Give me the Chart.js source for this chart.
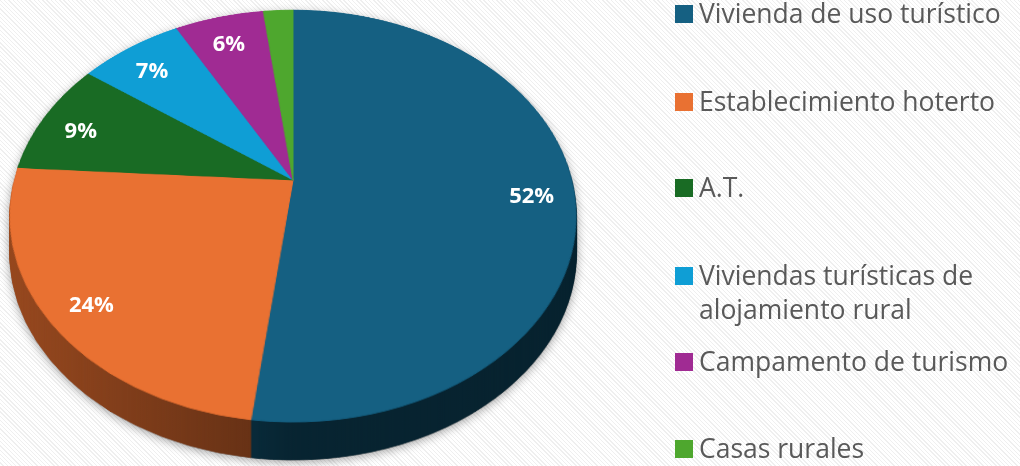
<!DOCTYPE html>
<html>
<head>
<meta charset="utf-8">
<script src="https://cdn.jsdelivr.net/npm/chart.js@4.4.1/dist/chart.umd.min.js"></script>
<style>
html, body {
    margin: 0; padding: 0; width: 1020px; height: 466px; overflow: hidden;
    background: repeating-linear-gradient(45deg, #ffffff 0px, #ffffff 2px, #efefef 2px, #efefef 3px);
}
#wrap { position: absolute; left: 0; top: 0; width: 1020px; height: 600px; }
#legend { position: absolute; left: 675px; top: 0; font-family: "Open Sans", sans-serif; font-size: 26.5px; color: #595959; }
.item { position: absolute; left: 0; line-height: 34px; }
.box { position: absolute; left: 0; top: 9px; width: 18px; height: 18px; }
.txt { position: absolute; left: 24px; top: 0; width: 335px; }
</style>
</head>
<body>
<div id="wrap"><canvas id="pie" width="1020" height="600"></canvas></div>
<div id="legend"></div>
<script>
const categories = [
    "Vivienda de uso turístico",
    "Establecimiento hoterto",
    "A.T.",
    "Viviendas turísticas de alojamiento rural",
    "Campamento de turismo",
    "Casas rurales"
];
const shares = [52, 24, 9, 7, 6, 2];
const colors = ["#156082", "#E97132", "#196B24", "#0F9ED5", "#A02B93", "#4EA72E"];

// where the legend rows sit (first line centre, px)
const legendRows = [14, 102, 188, 275.5, 361.5, 449];

// tilted view of the flat pie: centre on screen, scale, cos of tilt, perspective, wall depth
const view = { cx: 293, cy: 180, F: 0.9848, c: 0.7165, k: 0.000617, depth: 38 };

function makeCanvas(w, h){
    const c = document.createElement("canvas");
    c.width = w; c.height = h;
    return c;
}

// draws the flat pie again as a tilted 3D disc, row by row
const tiltPlugin = {
    id: "tilt",
    afterDraw(chart) {
        const arcs = chart.getDatasetMeta(0).data;
        const fx = arcs[0].x, fy = arcs[0].y, R = arcs[0].outerRadius;
        const W = chart.width, H = chart.height;

        const flat = makeCanvas(W, H);
        flat.getContext("2d").drawImage(chart.canvas, 0, 0, W, H);

        const top = makeCanvas(W, H);
        const tctx = top.getContext("2d");
        for (let y = 0; y < H; y++) {
            const yp = y + 0.5 - view.cy;
            const w = yp / (view.F * view.c + view.k * yp);
            if (Math.abs(w) > R + 1) continue;
            const s = view.F / (1 - view.k * w);
            tctx.drawImage(flat, fx - R - 1, fy + w - 0.5, 2 * R + 2, 1,
                           view.cx - s * (R + 1), y, 2 * s * (R + 1), 1);
        }

        // side wall: stacked copies of the top, then shaded darker
        const side = makeCanvas(W, H);
        const sctx = side.getContext("2d");
        for (let d = view.depth; d >= 1; d--) sctx.drawImage(top, 0, d);
        const mask = makeCanvas(W, H);
        mask.getContext("2d").drawImage(side, 0, 0);
        sctx.globalCompositeOperation = "multiply";
        const g = sctx.createLinearGradient(view.cx - R, 0, view.cx + R, 0);
        g.addColorStop(0, "rgb(165,165,165)");
        g.addColorStop(0.42, "rgb(114,114,114)");
        g.addColorStop(0.5, "rgb(97,97,97)");
        g.addColorStop(1, "rgb(92,92,92)");
        sctx.fillStyle = g;
        sctx.fillRect(0, 0, W, H);
        sctx.globalCompositeOperation = "destination-in";
        sctx.drawImage(mask, 0, 0);

        const ctx = chart.ctx;
        ctx.save();
        ctx.setTransform(1, 0, 0, 1, 0, 0);
        ctx.clearRect(0, 0, W, H);
        ctx.shadowColor = "rgba(0,0,0,0.35)";
        ctx.shadowBlur = 10;
        ctx.shadowOffsetY = 2;
        ctx.drawImage(side, 0, 0);
        ctx.shadowColor = "transparent";
        ctx.drawImage(top, 0, 0);

        // percentage labels, placed on the tilted disc
        ctx.font = "bold 22px 'Open Sans'";
        ctx.fillStyle = "#ffffff";
        ctx.textAlign = "center";
        ctx.textBaseline = "middle";
        const rho = 0.85;
        arcs.forEach((arc, i) => {
            if (shares[i] < 5) return;
            const mid = (arc.startAngle + arc.endAngle) / 2;
            const u = rho * R * Math.cos(mid);
            const w = rho * R * Math.sin(mid);
            const s = view.F / (1 - view.k * w);
            ctx.fillText(shares[i] + "%", view.cx + s * u, view.cy + s * view.c * w + 6);
        });
        ctx.restore();
    }
};

const chart = new Chart(document.getElementById("pie"), {
    type: "pie",
    data: {
        labels: categories,
        datasets: [{
            data: shares,
            backgroundColor: colors,
            borderColor: colors,
            borderWidth: 1,
            radius: 283
        }]
    },
    options: {
        responsive: false,
        maintainAspectRatio: false,
        animation: false,
        devicePixelRatio: 1,
        layout: { padding: 0 },
        plugins: { legend: { display: false }, tooltip: { enabled: false } }
    },
    plugins: [tiltPlugin]
});

// legend
const legend = document.getElementById("legend");
categories.forEach((name, i) => {
    const item = document.createElement("div");
    item.className = "item";
    item.style.top = (legendRows[i] - 18) + "px";
    const box = document.createElement("div");
    box.className = "box";
    box.style.background = colors[i];
    const txt = document.createElement("div");
    txt.className = "txt";
    txt.textContent = name;
    item.appendChild(box);
    item.appendChild(txt);
    legend.appendChild(item);
});
</script>
</body>
</html>
